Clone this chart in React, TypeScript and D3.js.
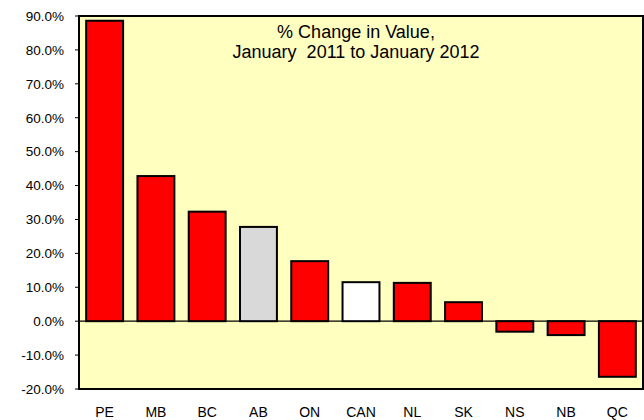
import React from "react";
import * as d3 from "d3";

const categories = ["PE", "MB", "BC", "AB", "ON", "CAN", "NL", "SK", "NS", "NB", "QC"];
const values = [88.6, 42.8, 32.3, 27.8, 17.7, 11.5, 11.3, 5.6, -3.1, -4.1, -16.4];
const barColors = ["#FF0000", "#FF0000", "#FF0000", "#D9D9D9", "#FF0000", "#FFFFFF", "#FF0000", "#FF0000", "#FF0000", "#FF0000", "#FF0000"];
const yTicks = [-20, -10, 0, 10, 20, 30, 40, 50, 60, 70, 80, 90];
const titleLines = ["% Change in Value,", "January  2011 to January 2012"];

export default function App() {
  const W = 644, H = 420;
  const left = 79, right = 643, top = 16, bottom = 389;
  const x = d3.scaleBand<string>().domain(categories).range([left, right]).paddingInner(0.28).paddingOuter(0.14);
  const y = d3.scaleLinear().domain([-20, 90]).range([bottom, top]);
  const font = "'Liberation Sans', Arial, sans-serif";
  return (
    <svg width={W} height={H} style={{ position: "absolute", left: 0, top: 0 }}>
      <rect x={0} y={0} width={W} height={H} fill="#fff" />
      <rect x={left} y={top} width={right - left} height={bottom - top} fill="#FFFFC0" />
      <line x1={left} x2={right} y1={y(0)} y2={y(0)} stroke="#000" strokeWidth={1.2} />
      {categories.map((c, i) => {
        const v = values[i];
        const y0 = y(Math.max(0, v));
        const y1 = y(Math.min(0, v));
        return (
          <rect key={c} x={x(c)} y={y0} width={x.bandwidth()} height={y1 - y0}
            fill={barColors[i]} stroke="#000" strokeWidth={2} />
        );
      })}
      <rect x={left} y={top} width={right - left} height={bottom - top} fill="none" stroke="#000" strokeWidth={2} />
      {yTicks.map((t) => (
        <g key={t}>
          <line x1={left - 4} x2={left} y1={y(t)} y2={y(t)} stroke="#000" strokeWidth={1} />
          <text x={64} y={y(t)} dy="0.36em" textAnchor="end" fontFamily={font} fontSize={13.5} fill="#000">
            {t.toFixed(1) + "%"}
          </text>
        </g>
      ))}
      {categories.map((c) => (
        <text key={c} x={(x(c) as number) + x.bandwidth() / 2} y={416.5} textAnchor="middle" fontFamily={font} fontSize={14} fill="#000">
          {c}
        </text>
      ))}
      {titleLines.map((l, i) => (
        <text key={i} x={356} y={37.5 + i * 20.8} textAnchor="middle" fontFamily={font} fontSize={18} fill="#000" style={{ whiteSpace: "pre" }}>
          {l}
        </text>
      ))}
    </svg>
  );
}
